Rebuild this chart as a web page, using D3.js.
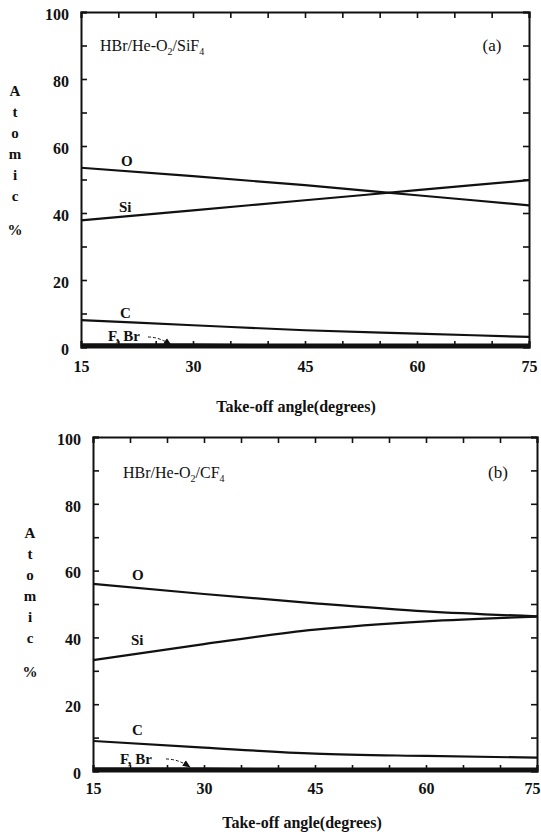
<!DOCTYPE html>
<html>
<head>
<meta charset="utf-8">
<script src="https://cdn.jsdelivr.net/npm/d3@7"></script>
<style>
  body { margin: 0; background: #fff; }
  svg text { font-family: "Liberation Serif", "DejaVu Serif", serif; fill: #111; }
</style>
</head>
<body>
<svg id="chart"></svg>
<script>
// take-off angles (degrees)
const angles = [15, 30, 45, 60, 75]

// panel (a) HBr/He-O2/SiF4, atomic %
const oA  = [53.5, 51, 48.3, 45.3, 42.3]
const siA = [37.8, 40.8, 43.8, 46.8, 49.8]
const cA  = [8, 6.5, 5, 4, 3]
const fA  = [0.8, 0.8, 0.7, 0.7, 0.7]
const brA = [0.3, 0.3, 0.3, 0.3, 0.3]

// panel (b) HBr/He-O2/CF4, atomic %
const oB  = [56, 53, 50.2, 47.8, 46.3]
const siB = [33.2, 38, 42.3, 44.8, 46.2]
const cB  = [9, 7, 5.2, 4.5, 4]
const fB  = [0.8, 0.8, 0.7, 0.7, 0.7]
const brB = [0.3, 0.3, 0.3, 0.3, 0.3]

const xTicks = [15, 30, 45, 60, 75]
const yTicks = [0, 20, 40, 60, 80, 100]
const yLetters = ['A', 't', 'o', 'm', 'i', 'c']

const width = 541
const height = 835

const svg = d3.select('#chart').attr('width', width).attr('height', height)

const drawPanel = (p) => {
    const x = d3.scaleLinear().domain([15, 75]).range([p.left, p.right])
    const y = d3.scaleLinear().domain([0, 100]).range([p.bottom, p.top])
    const g = svg.append('g')

    const minorX = d3.range(15, 76, 5)
    const minorY = d3.range(0, 101, 10)
    const fmtX = d => xTicks.includes(d) ? d : ''
    const fmtY = d => yTicks.includes(d) ? d : ''

    // inward ticks on all four sides
    const bottom = g.append('g').attr('transform', `translate(0,${p.bottom})`)
        .call(d3.axisBottom(x).tickValues(minorX).tickSize(-6).tickPadding(p.xPad).tickFormat(fmtX))
    const top = g.append('g').attr('transform', `translate(0,${p.top})`)
        .call(d3.axisTop(x).tickValues(minorX).tickSize(-6).tickFormat(''))
    const left = g.append('g').attr('transform', `translate(${p.left},0)`)
        .call(d3.axisLeft(y).tickValues(minorY).tickSize(-6).tickPadding(12).tickFormat(fmtY))
    const right = g.append('g').attr('transform', `translate(${p.right},0)`)
        .call(d3.axisRight(y).tickValues(minorY).tickSize(-6).tickFormat(''))

    ;[bottom, top, left, right].forEach(a => {
        a.select('.domain').attr('stroke', '#111').attr('stroke-width', 2)
        a.selectAll('.tick line').attr('stroke', '#111').attr('stroke-width', 1.6)
        a.selectAll('text').attr('font-size', 16).attr('font-weight', 'bold')
            .style('font-family', '"Liberation Serif", serif').attr('fill', '#111')
    })
    left.selectAll('.tick text').attr('dy', '0.45em')
    // keep the last x label inside the page
    bottom.selectAll('.tick text').filter(d => d === 75 && x(75) + 8 > width)
        .attr('text-anchor', 'end').attr('x', width - 1 - x(75))

    const line = d3.line().x((d, i) => x(angles[i])).y(d => y(d)).curve(d3.curveMonotoneX)
    p.series.forEach(s => {
        g.append('path').datum(s).attr('d', line)
            .attr('fill', 'none').attr('stroke', '#111').attr('stroke-width', 2.2)
    })

    // series labels
    p.labels.forEach(l => {
        g.append('text').attr('x', l.x).attr('y', l.y).text(l.t)
            .attr('font-size', 15).attr('font-weight', 'bold')
    })

    // dashed pointer for F, Br
    g.append('path')
        .attr('d', `M${p.arrow[0]},${p.arrow[1]} Q${(p.arrow[0] + p.arrow[2]) / 2},${p.arrow[1]} ${p.arrow[2]},${p.arrow[3]}`)
        .attr('fill', 'none').attr('stroke', '#111').attr('stroke-width', 1)
        .attr('stroke-dasharray', '3,2').attr('marker-end', 'url(#arrow)')

    // panel title with subscripts
    const t = g.append('text').attr('x', p.titleX).attr('y', p.titleY)
        .attr('font-size', 16)
    t.append('tspan').text('HBr/He-O')
    t.append('tspan').text('2').attr('font-size', 10).attr('dy', 4)
    t.append('tspan').text(p.gas).attr('dy', -4)
    t.append('tspan').text('4').attr('font-size', 10).attr('dy', 4)

    g.append('text').attr('x', p.tagX).attr('y', p.titleY).text(p.tag)
        .attr('font-size', 17).attr('text-anchor', 'middle')

    // stacked y label
    yLetters.forEach((c, i) => {
        g.append('text').attr('x', p.letterX).attr('y', p.letterY + i * 21).text(c)
            .attr('font-size', 15).attr('font-weight', 'bold').attr('text-anchor', 'middle')
    })
    g.append('text').attr('x', p.letterX).attr('y', p.letterY + 6 * 21 + 13).text('%')
        .attr('font-size', 15).attr('font-weight', 'bold').attr('text-anchor', 'middle')

    g.append('text').attr('x', p.xTitleX).attr('y', p.xTitleY)
        .text('Take-off angle(degrees)').attr('text-anchor', 'middle')
        .attr('font-size', 16).attr('font-weight', 'bold')
}

svg.append('defs').append('marker')
    .attr('id', 'arrow').attr('viewBox', '0 0 10 10').attr('refX', 9).attr('refY', 5)
    .attr('markerWidth', 8).attr('markerHeight', 8).attr('orient', 'auto')
    .append('path').attr('d', 'M0,1 L10,5 L0,9 Z').attr('fill', '#111')

drawPanel({
    left: 81, right: 529, top: 12, bottom: 347, xPad: 14,
    series: [oA, siA, cA, fA, brA],
    labels: [
        { t: 'O', x: 121, y: 166 },
        { t: 'Si', x: 119, y: 212 },
        { t: 'C', x: 120, y: 318 },
        { t: 'F, Br', x: 108, y: 341 }
    ],
    arrow: [148, 337, 171, 345],
    gas: '/SiF', titleX: 100, titleY: 51, tag: '(a)', tagX: 492,
    letterX: 15, letterY: 96, xTitleX: 296, xTitleY: 412
})

drawPanel({
    left: 93, right: 537, top: 437, bottom: 771, xPad: 12,
    series: [oB, siB, cB, fB, brB],
    labels: [
        { t: 'O', x: 132, y: 580 },
        { t: 'Si', x: 131, y: 645 },
        { t: 'C', x: 132, y: 735 },
        { t: 'F, Br', x: 120, y: 764 }
    ],
    arrow: [166, 759, 190, 767],
    gas: '/CF', titleX: 123, titleY: 478, tag: '(b)', tagX: 498,
    letterX: 30, letterY: 538, xTitleX: 302, xTitleY: 828
})
</script>
</body>
</html>
